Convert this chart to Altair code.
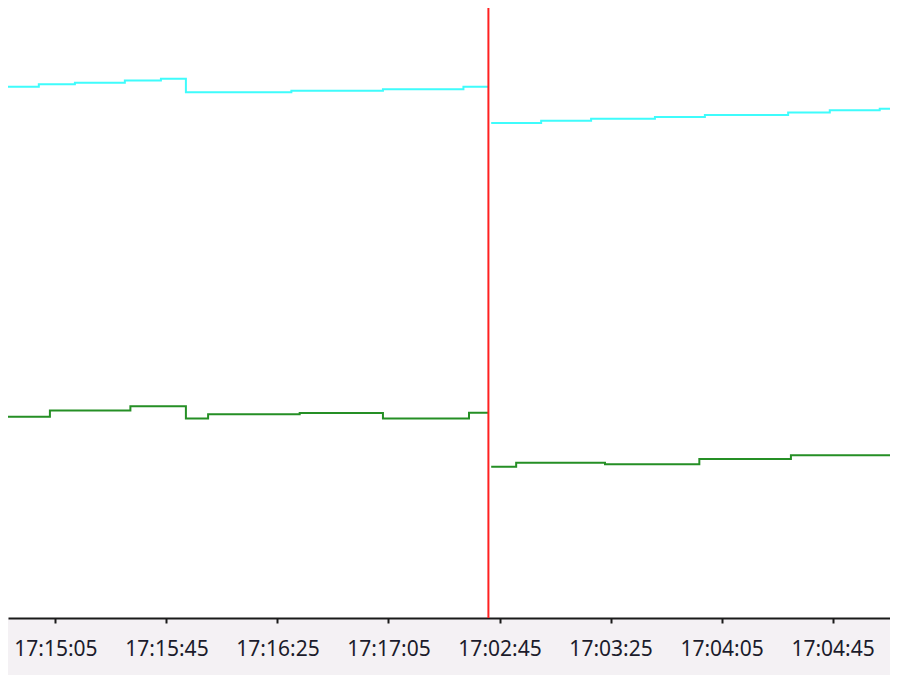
import altair as alt
import pandas as pd

# ---- data ----
SEG1_START = "17:14:45"
SEG1_END = "17:17:41"          # red break line
SEG2_START = "17:02:41"

CYAN_SEG1_TIMES = ["17:14:45", "17:14:59", "17:15:12", "17:15:30", "17:15:43",
                   "17:15:52", "17:16:30", "17:17:03", "17:17:32", "17:17:41"]
CYAN_SEG1_VALUES = [87.1, 87.5, 87.75, 88.1, 88.4, 86.2, 86.45, 86.7, 87.1, 87.1]

GREEN_SEG1_TIMES = ["17:14:45", "17:15:03", "17:15:32", "17:15:52", "17:16:00",
                    "17:16:33", "17:17:03", "17:17:34", "17:17:41"]
GREEN_SEG1_VALUES = [33.0, 34.0, 34.7, 32.7, 33.4, 33.6, 32.7, 33.65, 33.65]

CYAN_SEG2_TIMES = ["17:02:42", "17:03:00", "17:03:18", "17:03:41", "17:03:59",
                   "17:04:29", "17:04:44", "17:05:02", "17:05:12"]
CYAN_SEG2_VALUES = [81.15, 81.5, 81.85, 82.15, 82.45, 82.85, 83.25, 83.5, 83.5]

GREEN_SEG2_TIMES = ["17:02:42", "17:02:51", "17:03:23", "17:03:57", "17:04:30", "17:05:12"]
GREEN_SEG2_VALUES = [24.8, 25.45, 25.2, 26.05, 26.7, 26.7]

TICK_LABELS = ["17:15:05", "17:15:45", "17:16:25", "17:17:05",
               "17:02:45", "17:03:25", "17:04:05", "17:04:45"]
TICK_SEGMENTS = [1, 1, 1, 1, 2, 2, 2, 2]

SERIES = ["Series 1", "Series 2"]
COLORS = ["#3ffcfc", "#258f25"]


def secs(t):
    h, m, s = (int(v) for v in t.split(":"))
    return h * 3600 + m * 60 + s


SEG1_LEN = secs(SEG1_END) - secs(SEG1_START)


def pos(t, seg):
    if seg == 1:
        return secs(t) - secs(SEG1_START)
    return SEG1_LEN + secs(t) - secs(SEG2_START)


rows = []
for name, seg, times, vals in [
    (SERIES[0], 1, CYAN_SEG1_TIMES, CYAN_SEG1_VALUES),
    (SERIES[1], 1, GREEN_SEG1_TIMES, GREEN_SEG1_VALUES),
    (SERIES[0], 2, CYAN_SEG2_TIMES, CYAN_SEG2_VALUES),
    (SERIES[1], 2, GREEN_SEG2_TIMES, GREEN_SEG2_VALUES),
]:
    for t, v in zip(times, vals):
        rows.append({"series": name, "key": f"{name}-{seg}", "s": pos(t, seg),
                     "time": t, "value": v})
df = pd.DataFrame(rows)

tick_vals = [pos(t, g) for t, g in zip(TICK_LABELS, TICK_SEGMENTS)]
label_expr = ("[" + ",".join(f"'{l}'" for l in TICK_LABELS) + "][indexof(["
              + ",".join(str(v) for v in tick_vals) + "], datum.value)]")

x_scale = alt.Scale(domain=[2.9, 320.7], nice=False, zero=False)
y_scale = alt.Scale(domain=[0, 100], nice=False)

lines = alt.Chart(df).mark_line(interpolate="step-after", strokeWidth=2, clip=True).encode(
    x=alt.X("s:Q", scale=x_scale,
            axis=alt.Axis(values=tick_vals, labelExpr=label_expr, title=None, grid=False,
                          domainColor="#1a1a1a", domainWidth=2, tickColor="#1a1a1a",
                          tickWidth=2, tickSize=5, labelPadding=15, labelFont="Noto Sans",
                          labelFontSize=21, labelColor="#1b1b2b", labelFlush=False)),
    y=alt.Y("value:Q", scale=y_scale, axis=None),
    color=alt.Color("series:N", scale=alt.Scale(domain=SERIES, range=COLORS), legend=None),
    detail="key:N",
)

brk = alt.Chart(pd.DataFrame({"s": [SEG1_LEN]})).mark_rule(
    color="#ff2020", strokeWidth=2).encode(x=alt.X("s:Q", scale=x_scale))

chart = alt.layer(lines, brk).properties(
    width=882, height=610,
    autosize=alt.AutoSizeParams(type="none"),
    padding={"left": 0, "top": 0, "right": 0, "bottom": 57},
    background="#f4f1f4",
).configure_view(fill="white", strokeWidth=0)

chart.save("out.html", embed_options={"renderer": "svg", "actions": False})
